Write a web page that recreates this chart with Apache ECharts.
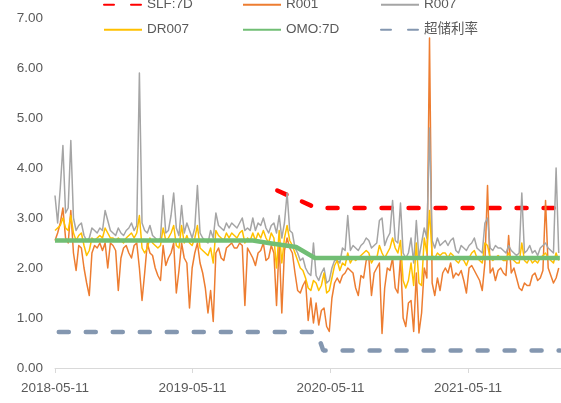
<!DOCTYPE html>
<html>
<head>
<meta charset="utf-8">
<script src="https://cdn.jsdelivr.net/npm/echarts@6/dist/echarts.min.js"></script>
<style>
html, body { margin: 0; padding: 0; background: #fff; }
#main { width: 561px; height: 403px; }
</style>
</head>
<body>
<div id="main"></div>
<script>
// 周度取点，第 i 个点 = 2018-05-11 之后 i*7 天
const stepDays = 7
const r001 = [
  2.55, 2.7, 2.9, 3.2, 2.6, 2.5, 3.15, 2.3, 1.95, 2.45, 2.4, 2.0, 1.7, 1.45, 2.3, 2.45, 2.4, 2.5, 2.35, 2.5,
  2.0, 2.5, 2.45, 2.35, 1.55, 2.2, 2.4, 2.45, 2.3, 2.2, 2.45, 2.5, 2.0, 1.35, 1.9, 2.5, 2.3,
  2.25, 2.0, 1.85, 1.75, 2.45, 2.05, 2.2, 2.3, 2.5, 1.5, 1.95, 2.5, 2.2, 2.1, 1.2, 2.0, 2.3, 2.5, 2.1, 1.9,
  1.6, 1.1, 1.55, 0.93, 2.3, 2.4, 2.2, 2.15, 2.4, 2.45, 2.5, 2.4, 2.4, 2.5, 2.45, 1.25, 2.4, 2.3, 2.2,
  2.05, 2.3, 2.35, 2.5, 2.15, 2.2, 2.45, 2.3, 1.25, 2.5, 1.1, 2.35, 2.6, 2.4, 2.3, 1.9, 1.55, 1.5, 1.65, 1.75,
  0.95, 1.4, 0.9, 1.3, 0.86, 1.15, 1.2, 0.83, 0.73, 1.4, 1.7, 1.8, 1.7, 1.85, 1.9, 2.0, 1.95, 1.9,
  1.6, 1.45, 1.85, 1.8, 2.15, 2.2, 1.45, 1.9, 2.0, 2.1, 0.69, 1.6, 2.0, 1.95, 2.2, 1.6, 1.5, 2.2, 1.0, 0.83,
  1.3, 1.35, 0.73, 1.9, 0.7, 1.1, 2.0, 1.8, 6.6, 1.7, 1.45, 1.8, 1.55, 1.9, 2.0, 1.9, 2.1,
  1.8, 1.9, 1.85, 1.95, 1.75, 1.5, 2.0, 2.05, 1.95, 1.85, 1.75, 1.55, 2.1, 3.65, 1.9, 2.0, 1.75, 1.95, 2.0, 1.9,
  1.85, 2.65, 1.9, 2.0, 1.8, 1.6, 1.55, 1.7, 1.65, 1.65, 1.85, 1.9, 1.75, 1.8, 1.95, 3.35, 2.0, 1.85, 1.7, 1.8, 2.0
]
const r007 = [
  3.45, 2.9, 3.6, 4.45, 3.1, 3.2, 4.55, 3.0, 2.75, 2.85, 2.9, 2.65, 2.55, 2.6, 2.8, 2.75, 2.7, 2.8, 2.75, 3.15,
  2.95, 2.75, 2.7, 2.65, 2.8, 2.7, 2.65, 2.75, 2.8, 2.9, 2.75, 2.85, 5.9, 2.9, 2.75, 2.7, 2.85,
  2.65, 2.6, 2.55, 2.6, 3.45, 2.7, 2.75, 3.05, 3.5, 2.8, 2.65, 3.25, 2.7, 2.9, 2.75, 2.6, 2.8, 3.65, 2.7, 2.6,
  2.55, 2.5, 2.75, 2.6, 3.1, 2.85, 2.8, 2.75, 2.9, 2.8, 2.9, 2.85, 2.8, 2.9, 3.0, 2.75, 2.8, 2.75, 3.0,
  2.75, 2.9, 2.85, 3.0, 2.8, 2.7, 2.85, 2.9, 2.7, 3.05, 2.6, 2.9, 3.5, 2.75, 2.7, 2.4, 2.3, 2.15, 2.2, 2.0,
  1.9, 1.85, 2.5, 1.85, 1.75, 1.9, 2.0, 1.7, 1.75, 2.0, 2.15, 2.15, 2.1, 2.4, 2.35, 3.05, 2.35, 2.45,
  2.4, 2.35, 2.45, 2.5, 2.6, 2.55, 2.4, 2.45, 2.5, 2.95, 3.0, 2.45, 2.6, 2.7, 3.35, 2.55, 2.5, 3.3, 2.3, 2.2,
  2.3, 2.6, 2.1, 2.95, 2.2, 2.5, 2.8, 2.6, 4.8, 2.55, 2.4, 2.6, 2.45, 2.5, 2.55, 2.45, 2.55,
  2.6, 2.35, 2.3, 2.45, 2.4, 2.35, 2.45, 2.5, 2.6, 2.4, 2.35, 2.3, 2.9, 3.0, 2.4, 2.35, 2.45, 2.4, 2.4, 2.35,
  2.3, 2.45, 2.35, 2.3, 2.25, 2.3, 3.5, 2.3, 2.35, 2.45, 2.3, 2.35, 2.25, 2.4, 2.45, 2.5, 2.4, 2.35, 2.3, 4.0, 2.3
]
const dr007 = [
  2.75, 2.8, 2.85, 3.0, 2.8, 2.75, 3.05, 2.7, 2.55, 2.65, 2.7, 2.45, 2.25, 2.35, 2.6, 2.55, 2.6, 2.65, 2.6, 2.8,
  2.7, 2.6, 2.6, 2.55, 2.6, 2.55, 2.5, 2.6, 2.65, 2.7, 2.6, 2.7, 3.05, 2.4, 2.3, 2.4, 2.6,
  2.5, 2.45, 2.4, 2.45, 2.8, 2.55, 2.6, 2.7, 2.85, 2.45, 2.4, 2.85, 2.5, 2.65, 2.5, 2.45, 2.6, 2.85, 2.4, 2.35,
  2.3, 2.25, 2.4, 2.1, 2.75, 2.65, 2.6, 2.55, 2.7, 2.6, 2.7, 2.65, 2.6, 2.7, 2.75, 2.5, 2.6, 2.55, 2.7,
  2.55, 2.7, 2.6, 2.75, 2.6, 2.5, 2.7, 2.6, 2.0, 2.75, 2.1, 2.6, 2.85, 2.55, 2.45, 2.3, 2.15, 2.0, 1.95, 1.8,
  1.6, 1.55, 1.75, 1.7, 1.55, 1.65, 1.9, 1.5, 1.55, 1.8, 2.05, 2.15, 1.95, 2.1, 2.05, 2.3, 2.1, 2.2,
  2.15, 2.2, 2.25, 2.3, 2.35, 2.3, 2.1, 2.2, 2.2, 2.45, 2.3, 2.2, 2.3, 2.4, 2.6, 2.4, 2.3, 2.55, 1.75, 1.6,
  1.75, 2.1, 1.65, 2.5, 1.7, 1.65, 2.6, 2.3, 3.15, 2.25, 2.2, 2.3, 2.25, 2.3, 2.3, 2.2, 2.3,
  2.25, 2.15, 2.1, 2.2, 2.15, 2.05, 2.2, 2.3, 2.35, 2.2, 2.15, 2.1, 2.5, 2.45, 2.2, 2.15, 2.2, 2.25, 2.2, 2.15,
  2.15, 2.3, 2.2, 2.15, 2.1, 2.1, 2.5, 2.15, 2.1, 2.2, 2.1, 2.15, 2.1, 2.2, 2.25, 2.3, 2.2, 2.15, 2.1, 2.3, 2.15
]
// 政策利率：拐点（距 2018-05-11 的天数）
const slfDays = [590, 694, 1340]
const slfValues = [3.55, 3.2, 3.2]
const omoDays = [0, 525, 575, 640, 690, 1340]
const omoValues = [2.55, 2.55, 2.49, 2.42, 2.2, 2.2]
const excessDays = [10, 695, 712, 1340]
const excessValues = [0.72, 0.72, 0.35, 0.35]
const xTickDays = [0, 365, 731, 1096]
const xTickLabels = ['2018-05-11', '2019-05-11', '2020-05-11', '2021-05-11']

const textColor = '#595959'
const fontFamily = "'Liberation Sans', 'Noto Sans CJK SC', sans-serif"

const weekly = arr => arr.map((v, i) => [i * stepDays, v])
const pairs = (days, vals) => days.map((d, i) => [d, vals[i]])

const lineSeries = (name, data, color, width, dashed) => ({
  name: name,
  type: 'line',
  data: data,
  symbol: 'none',
  silent: true,
  lineStyle: dashed
    ? { color: color, width: width, type: [10, 17], cap: 'round' }
    : { color: color, width: width, join: 'round' },
  itemStyle: { color: color }
})

const legendAt = (name, left, top) => ({
  data: [name],
  left: left,
  top: top,
  itemWidth: 38,
  itemHeight: 14,
  itemStyle: { opacity: 0 },
  textStyle: { color: textColor, fontSize: 13.5, fontFamily: fontFamily }
})

const chart = echarts.init(document.getElementById('main'))
chart.setOption({
  animation: false,
  backgroundColor: '#fff',
  legend: [
    legendAt('SLF:7D', 98, -7),
    legendAt('R001', 237, -7),
    legendAt('R007', 375, -7),
    legendAt('DR007', 98, 18),
    legendAt('OMO:7D', 237, 18),
    legendAt('超储利率', 375, 18)
  ],
  grid: { left: 55, right: 0, top: 18, bottom: 35 },
  xAxis: {
    type: 'value',
    min: 0,
    max: 1343,
    axisLine: { lineStyle: { color: '#D9D9D9', width: 1 } },
    axisTick: { show: true, length: 5, customValues: xTickDays, lineStyle: { color: '#D9D9D9' } },
    splitLine: { show: false },
    axisLabel: {
      customValues: xTickDays,
      margin: 14,
      color: textColor,
      fontSize: 13.5,
      fontFamily: fontFamily,
      formatter: v => xTickLabels[xTickDays.indexOf(v)] || ''
    }
  },
  yAxis: {
    type: 'value',
    min: 0,
    max: 7,
    interval: 1,
    axisLine: { show: false },
    axisTick: { show: false },
    splitLine: { show: false },
    axisLabel: {
      margin: 12,
      color: textColor,
      fontSize: 13.5,
      fontFamily: fontFamily,
      formatter: v => v.toFixed(2)
    }
  },
  series: [
    lineSeries('SLF:7D', pairs(slfDays, slfValues), '#FF0000', 4.5, true),
    lineSeries('R001', weekly(r001), '#ED7D31', 1.5),
    lineSeries('R007', weekly(r007), '#A5A5A5', 1.5),
    lineSeries('DR007', weekly(dr007), '#FFC000', 1.5),
    lineSeries('OMO:7D', pairs(omoDays, omoValues), '#71BE74', 4.5),
    lineSeries('超储利率', pairs(excessDays, excessValues), '#8497B0', 4.5, true)
  ]
})
</script>
</body>
</html>
